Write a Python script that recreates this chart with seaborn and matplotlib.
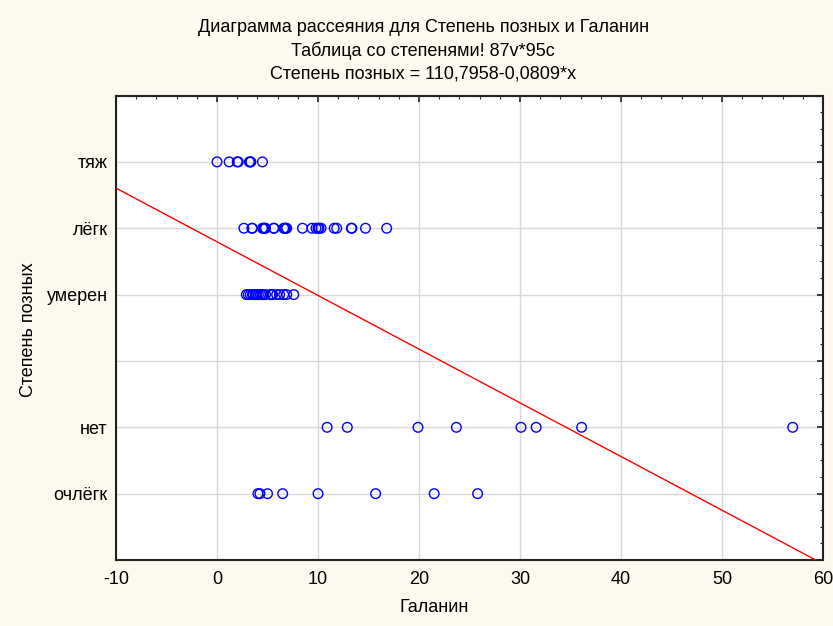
import numpy as np
import pandas as pd
import matplotlib
matplotlib.use("Agg")
import matplotlib.pyplot as plt
import seaborn as sns
from matplotlib.ticker import FixedLocator, FixedFormatter, MultipleLocator

# ---- data ----
categories = ["тяж", "лёгк", "умерен", "нет", "очлёгк"]
category_codes = [112, 111, 110, 108, 107]

galanin_tyazh = [0.0, 1.2, 2.0, 2.1, 3.2, 3.3, 3.35, 4.5]
galanin_legk = [2.66, 3.45, 3.5, 4.5, 4.6, 4.7, 4.8, 5.6, 5.65, 6.6, 6.7, 6.8, 6.9,
                8.46, 9.4, 9.8, 10.0, 10.1, 10.3, 11.6, 11.85, 13.3, 13.35, 14.7, 16.8]
galanin_umeren = [2.9, 3.1, 3.3, 3.5, 3.6, 3.8, 3.9, 4.1, 4.3, 4.5, 4.6, 4.8,
                  5.3, 5.4, 5.5, 5.9, 6.2, 6.6, 6.9, 7.6]
galanin_net = [10.9, 12.9, 19.9, 23.7, 30.1, 31.6, 36.1, 57.0]
galanin_ochlegk = [4.05, 4.25, 5.0, 6.5, 10.0, 15.7, 21.5, 25.8]

intercept = 110.7958
slope = -0.0809

x_ticks = [-10, 0, 10, 20, 30, 40, 50, 60]
y_range = (106, 113)

title_lines = ["Диаграмма рассеяния для Степень позных и Галанин",
               "Таблица со степенями! 87v*95c",
               "Степень позных = 110,7958-0,0809*x"]
x_label = "Галанин"
y_label = "Степень позных"

# ---- build table ----
groups = [galanin_tyazh, galanin_legk, galanin_umeren, galanin_net, galanin_ochlegk]
rows = []
for name, code, vals in zip(categories, category_codes, groups):
    for v in vals:
        rows.append({"Галанин": v, "code": code, "cat": name})
df = pd.DataFrame(rows)

line_x = np.array([x_ticks[0], x_ticks[-1]], dtype=float)
line_df = pd.DataFrame({"x": line_x, "y": intercept + slope * line_x})

# ---- style ----
sns.set_theme(style="white")
plt.rcParams["font.family"] = ["Liberation Sans", "DejaVu Sans"]
plt.rcParams["text.color"] = "black"
bg = "#FDF9EE"
fs = 13

fig = plt.figure(figsize=(8.33, 6.26), dpi=100, facecolor=bg)
ax = fig.add_axes([0.1393, 0.1054, 0.8487, 0.742])
ax.set_facecolor("white")

sns.lineplot(data=line_df, x="x", y="y", ax=ax, color="#ff0000", linewidth=1.0, zorder=3)
sns.scatterplot(data=df, x="Галанин", y="code", ax=ax, marker="o", s=48,
                fc="none", ec="#0000ff", linewidth=1.0, zorder=4)

ax.set_xlim(x_ticks[0], x_ticks[-1])
ax.set_ylim(*y_range)

ax.xaxis.set_major_locator(FixedLocator(x_ticks))
ax.xaxis.set_major_formatter(FixedFormatter([str(t) for t in x_ticks]))
ax.xaxis.set_minor_locator(MultipleLocator(2))

yt = list(range(y_range[0], y_range[1] + 1))
ylabels = [categories[category_codes.index(t)] if t in category_codes else "" for t in yt]
ax.yaxis.set_major_locator(FixedLocator(yt))
ax.yaxis.set_major_formatter(FixedFormatter(ylabels))
ax.yaxis.set_minor_locator(MultipleLocator(0.25))

ax.grid(True, which="major", color="#d9d9d9", linewidth=1.0, zorder=0)
ax.set_axisbelow(True)

ax.tick_params(which="both", direction="in", top=True, right=True, colors="#222222",
               labelsize=fs, labelcolor="black")
ax.tick_params(which="major", length=4, width=1.2)
ax.tick_params(which="minor", length=2.5, width=0.8)
ax.tick_params(axis="x", which="major", pad=8)
ax.tick_params(axis="y", which="major", pad=6)

for s in ax.spines.values():
    s.set_color("#222222")
    s.set_linewidth(1.5)

ax.set_xlabel("")
ax.set_ylabel("")

fig.text(0.521, 1 - 608 / 626, x_label, ha="center", va="center", fontsize=fs, color="black")
fig.text(0.034, 1 - 330 / 626, y_label, ha="center", va="center", fontsize=fs,
         rotation=90, color="black")

for i, t in enumerate(title_lines):
    fig.text(0.508, 1 - (28 + 23 * i) / 626, t, ha="center", va="center", fontsize=fs,
             color="black")

fig.savefig("out.png", dpi=100, facecolor=bg)
